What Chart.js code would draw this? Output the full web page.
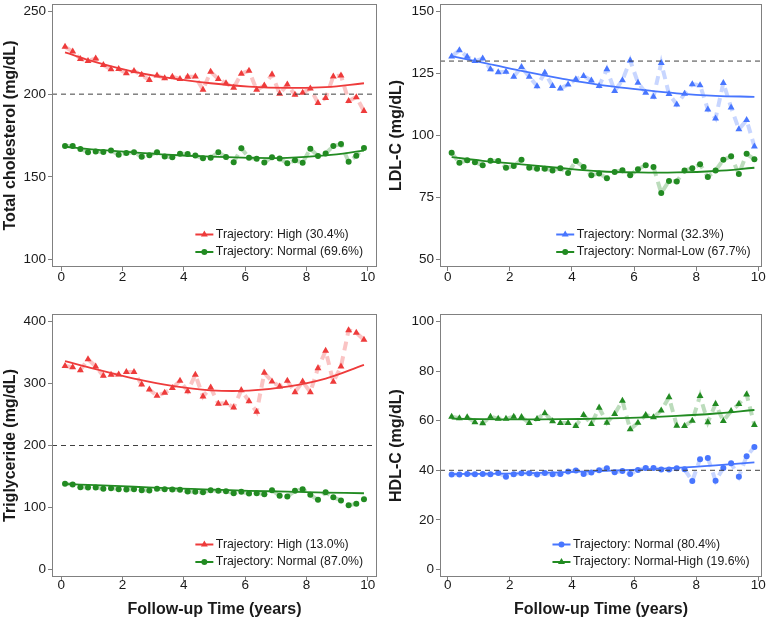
<!DOCTYPE html>
<html>
<head>
<meta charset="utf-8">
<title>Lipid trajectories</title>
<script src="https://cdn.jsdelivr.net/npm/chart.js@4.4.1/dist/chart.umd.min.js"></script>
<style>
    body { margin: 0; background: #fff; width: 766px; height: 619px; overflow: hidden; position: relative; }
    canvas { position: absolute; }
</style>
</head>
<body>
<canvas id="tcChart" width="383" height="290" style="left:0;top:0"></canvas>
<canvas id="ldlChart" width="383" height="290" style="left:383px;top:0"></canvas>
<canvas id="tgChart" width="383" height="329" style="left:0;top:290px"></canvas>
<canvas id="hdlChart" width="383" height="329" style="left:383px;top:290px"></canvas>
<script>
// follow-up time of each observed mean (years)
const timeYears = [0.125, 0.375, 0.625, 0.875, 1.125, 1.375, 1.625, 1.875, 2.125, 2.375,
    2.625, 2.875, 3.125, 3.375, 3.625, 3.875, 4.125, 4.375, 4.625, 4.875,
    5.125, 5.375, 5.625, 5.875, 6.125, 6.375, 6.625, 6.875, 7.125, 7.375,
    7.625, 7.875, 8.125, 8.375, 8.625, 8.875, 9.125, 9.375, 9.625, 9.875];
// times where the fitted curves were read
const fitYears = [0.125, 1.125, 2.375, 3.625, 4.875, 6.125, 7.375, 8.625, 9.875];
const xTicks = [0, 2, 4, 6, 8, 10];

// total cholesterol
const tcTicks = [100, 150, 200, 250];
const tcHigh = [228.6, 225.8, 221.3, 220.1, 221.6, 217.6, 215.1, 215.2, 212.6, 214.0,
    211.7, 208.5, 211.3, 209.6, 210.5, 209.2, 210.5, 210.6, 202.7, 213.6,
    209.1, 206.6, 203.8, 212.4, 214.1, 202.6, 205.3, 211.9, 200.2, 205.9,
    199.6, 200.8, 203.4, 194.7, 197.6, 210.7, 211.2, 195.9, 198.2, 189.8];
const tcNormal = [168.6, 168.6, 166.9, 164.9, 165.4, 165.0, 165.9, 163.4, 164.4, 164.8,
    162.2, 163.1, 164.8, 162.3, 161.8, 164.0, 163.8, 162.9, 161.2, 161.6,
    164.8, 162.0, 158.8, 167.3, 161.5, 161.0, 158.7, 161.9, 161.1, 158.2,
    160.0, 158.6, 167.0, 162.6, 164.1, 168.7, 169.8, 159.1, 162.8, 167.4];
const tcHighFit = [225.2, 219.3, 213.5, 209.5, 206.6, 204.6, 203.8, 204.2, 206.6];
const tcNormalFit = [168.2, 166.4, 164.8, 163.2, 162.2, 161.5, 161.5, 163.0, 165.8];

// LDL-C
const ldlTicks = [50, 75, 100, 125, 150];
const ldlNormal = [131.8, 134.4, 131.7, 130.0, 131.0, 126.7, 125.5, 125.7, 123.7, 127.6,
    123.7, 119.9, 125.3, 120.0, 118.9, 120.6, 122.7, 124.0, 122.2, 120.0,
    126.7, 117.9, 122.3, 130.2, 121.3, 117.2, 115.6, 129.2, 116.7, 112.5,
    116.8, 120.7, 120.3, 110.5, 106.9, 121.2, 111.3, 102.5, 106.2, 95.6];
const ldlNormalLow = [93.0, 89.0, 90.0, 89.2, 88.0, 89.8, 89.7, 87.0, 87.7, 90.2,
    87.0, 86.6, 86.6, 85.9, 86.8, 84.9, 89.7, 87.3, 84.0, 84.7,
    82.8, 85.3, 86.0, 84.0, 86.4, 88.0, 87.3, 76.8, 81.7, 81.5,
    85.9, 86.8, 88.4, 83.3, 85.9, 90.2, 91.6, 84.5, 92.6, 90.4];
const ldlNormalFit = [132.0, 129.4, 126.0, 123.0, 120.4, 118.6, 117.0, 116.0, 115.6];
const ldlNormalLowFit = [91.3, 89.8, 88.4, 86.9, 85.6, 85.1, 85.1, 85.7, 87.0];

// triglyceride
const tgTicks = [0, 100, 200, 300, 400];
const tgHigh = [328.0, 326.3, 321.5, 339.2, 327.4, 312.4, 314.0, 314.5, 318.3, 318.3,
    298.4, 290.3, 280.1, 285.0, 292.5, 304.3, 287.6, 314.0, 279.0, 293.5,
    267.2, 268.3, 261.3, 289.2, 271.5, 254.3, 317.2, 303.2, 295.2, 304.3,
    286.0, 303.2, 286.0, 324.7, 352.7, 302.7, 327.4, 386.0, 381.7, 370.4];
const tgNormal = [138.2, 137.1, 132.8, 132.3, 132.3, 130.1, 131.2, 129.6, 129.0, 129.6,
    128.0, 127.4, 130.1, 129.6, 129.0, 128.5, 125.8, 125.3, 124.7, 128.0,
    126.9, 126.3, 123.1, 125.3, 122.6, 123.1, 121.5, 128.0, 118.8, 117.7,
    126.9, 129.6, 120.4, 112.4, 124.7, 116.7, 111.3, 103.8, 105.9, 113.4];
const tgHighFit = [336, 323, 308, 296, 289, 288.5, 295, 308, 330];
const tgNormalFit = [138, 136, 133.5, 131, 129, 127, 125.5, 124, 123];

// HDL-C
const hdlTicks = [0, 20, 40, 60, 80, 100];
const hdlNormal = [38.3, 38.3, 38.5, 38.4, 38.5, 38.4, 38.9, 37.4, 38.4, 38.8,
    38.8, 38.3, 38.9, 38.4, 38.5, 39.5, 39.9, 38.5, 39.1, 40.0,
    40.8, 39.2, 39.7, 38.5, 40.1, 40.9, 40.9, 40.3, 40.3, 40.8,
    40.4, 35.7, 44.5, 45.0, 35.8, 40.9, 42.8, 37.4, 45.7, 49.4];
const hdlNormalHigh = [61.6, 61.0, 61.4, 59.4, 59.0, 61.6, 60.8, 60.8, 61.6, 61.5,
    59.1, 60.7, 63.0, 59.8, 59.1, 59.1, 57.9, 62.3, 58.7, 65.2,
    59.2, 62.7, 68.0, 56.5, 59.2, 62.3, 61.4, 64.1, 69.4, 58.0,
    57.9, 60.0, 70.0, 59.4, 66.7, 59.9, 63.9, 66.7, 70.6, 58.3];
const hdlNormalFit = [38.5, 38.6, 38.8, 39.2, 39.7, 40.3, 41.0, 42.0, 43.2];
const hdlNormalHighFit = [60.8, 60.6, 60.5, 60.6, 60.8, 61.2, 61.9, 62.9, 64.3];

const red = "#EE3B3B", redFaint = "rgba(238,59,59,0.3)";
const green = "#228B22", greenFaint = "rgba(34,139,34,0.3)";
const blue = "#4876FF", blueFaint = "rgba(72,118,255,0.3)";

Chart.defaults.font.family = "'Liberation Sans', Arial, sans-serif";
Chart.defaults.color = "#1a1a1a";

const panels = [
    {
        id: "tcChart", yTitle: "Total cholesterol (mg/dL)", showX: false,
        yMin: 95.5, yMax: 254.5, yTicks: tcTicks, ref: 200, xMin: -0.3, xMax: 10.3,
        yWidth: 52, xHeight: 23, padTop: 2, padRight: 6, titlePad: 1, xTickPad: 0, legendGap: 14,
        groups: [
            { label: "Trajectory: High (30.4%)", color: red, faint: redFaint, style: "triangle", values: tcHigh, fit: tcHighFit },
            { label: "Trajectory: Normal (69.6%)", color: green, faint: greenFaint, style: "circle", values: tcNormal, fit: tcNormalFit }
        ]
    },
    {
        id: "ldlChart", yTitle: "LDL-C (mg/dL)", showX: false,
        yMin: 47, yMax: 153, yTicks: ldlTicks, ref: 130, xMin: -0.25, xMax: 10.12,
        yWidth: 57, xHeight: 23, padTop: 2, padRight: 4, titlePad: 4, xTickPad: 0, legendGap: 11.5,
        groups: [
            { label: "Trajectory: Normal (32.3%)", color: blue, faint: blueFaint, style: "triangle", values: ldlNormal, fit: ldlNormalFit },
            { label: "Trajectory: Normal-Low (67.7%)", color: green, faint: greenFaint, style: "circle", values: ldlNormalLow, fit: ldlNormalLowFit }
        ]
    },
    {
        id: "tgChart", yTitle: "Triglyceride (mg/dL)", showX: true,
        yMin: -12, yMax: 412, yTicks: tgTicks, ref: 200, xMin: -0.3, xMax: 10.3,
        yWidth: 52, xHeight: 42, padTop: 24, padRight: 6, titlePad: 1, xTickPad: -2, legendGap: 14,
        groups: [
            { label: "Trajectory: High (13.0%)", color: red, faint: redFaint, style: "triangle", values: tgHigh, fit: tgHighFit },
            { label: "Trajectory: Normal (87.0%)", color: green, faint: greenFaint, style: "circle", values: tgNormal, fit: tgNormalFit }
        ]
    },
    {
        id: "hdlChart", yTitle: "HDL-C (mg/dL)", showX: true,
        yMin: -3, yMax: 103, yTicks: hdlTicks, ref: 40, xMin: -0.25, xMax: 10.12,
        yWidth: 57, xHeight: 42, padTop: 24, padRight: 4, titlePad: 4, xTickPad: -2, legendGap: 12.5,
        groups: [
            { label: "Trajectory: Normal (80.4%)", color: blue, faint: blueFaint, style: "circle", values: hdlNormal, fit: hdlNormalFit },
            { label: "Trajectory: Normal-High (19.6%)", color: green, faint: greenFaint, style: "triangle", values: hdlNormalHigh, fit: hdlNormalHighFit }
        ]
    }
];

const pointSize = style => (style === "triangle" ? 4 : 3);

// grey box around the plotting area
const framePlugin = {
    id: "frame",
    afterDraw(chart) {
        const { ctx, chartArea: a } = chart;
        ctx.save();
        ctx.strokeStyle = "#808080";
        ctx.lineWidth = 1;
        ctx.strokeRect(a.left + 0.5, a.top + 0.5, a.right - a.left - 1, a.bottom - a.top - 1);
        ctx.restore();
    }
};

// ggplot-like legend in the lower right corner of the plot
const trajLegend = {
    id: "trajLegend",
    afterDraw(chart, args, opts) {
        const { ctx, chartArea: a } = chart;
        ctx.save();
        ctx.font = "12.3px 'Liberation Sans', Arial, sans-serif";
        const widest = Math.max(...opts.items.map(it => ctx.measureText(it.label).width));
        const textX = a.right - opts.gap - widest;
        opts.items.forEach((it, k) => {
            const y = a.bottom - 15 - (opts.items.length - 1 - k) * 17.5;
            ctx.strokeStyle = it.color;
            ctx.fillStyle = it.color;
            ctx.lineWidth = 2;
            ctx.beginPath();
            ctx.moveTo(textX - 20.5, y);
            ctx.lineTo(textX - 2.5, y);
            ctx.stroke();
            Chart.helpers.drawPoint(ctx, { pointStyle: it.style, radius: pointSize(it.style), borderWidth: 0, rotation: 0 }, textX - 11.5, y);
            ctx.fillStyle = "#1a1a1a";
            ctx.textBaseline = "middle";
            ctx.textAlign = "left";
            ctx.fillText(it.label, textX, y);
        });
        ctx.restore();
    }
};

panels.forEach(p => {
    const datasets = [];
    p.groups.forEach(g => {
        const observed = timeYears.map((t, i) => ({ x: t, y: g.values[i] }));
        datasets.push({
            data: observed, order: 5, borderColor: g.faint, borderWidth: 4,
            borderDash: [9, 6], pointRadius: 0, tension: 0, fill: false
        });
        datasets.push({
            data: observed, order: 3, showLine: false, pointStyle: g.style,
            pointRadius: pointSize(g.style), pointBackgroundColor: g.color, pointBorderWidth: 0
        });
        datasets.push({
            data: fitYears.map((t, i) => ({ x: t, y: g.fit[i] })), order: 2,
            borderColor: g.color, borderWidth: 1.8, pointRadius: 0, tension: 0.4, fill: false
        });
    });
    datasets.push({
        data: [{ x: p.xMin, y: p.ref }, { x: p.xMax, y: p.ref }], order: 1,
        borderColor: "#404040", borderWidth: 1, borderDash: [5, 4], pointRadius: 0
    });

    new Chart(document.getElementById(p.id), {
        type: "line",
        data: { datasets },
        options: {
            responsive: false,
            animation: false,
            devicePixelRatio: 1,
            layout: { padding: { top: p.padTop, right: p.padRight, left: 0, bottom: 0 } },
            plugins: {
                legend: { display: false },
                tooltip: { enabled: false },
                trajLegend: {
                    gap: p.legendGap,
                    items: p.groups.map(g => ({ label: g.label, color: g.color, style: g.style }))
                }
            },
            scales: {
                x: {
                    type: "linear", min: p.xMin, max: p.xMax,
                    afterBuildTicks: axis => { axis.ticks = xTicks.map(value => ({ value })); },
                    afterFit: s => { s.height = p.xHeight; s.paddingLeft = 0; s.paddingRight = 0; },
                    grid: { drawOnChartArea: false, tickLength: 4, tickColor: "#808080", color: "#808080" },
                    border: { display: false },
                    ticks: { font: { size: 13.5, lineHeight: 1 }, padding: p.xTickPad, maxRotation: 0 },
                    title: {
                        display: p.showX, text: "Follow-up Time (years)",
                        font: { size: 16, weight: "bold" }, padding: { top: 0, bottom: 0 }
                    }
                },
                y: {
                    type: "linear", min: p.yMin, max: p.yMax,
                    afterBuildTicks: axis => { axis.ticks = p.yTicks.map(value => ({ value })); },
                    afterFit: s => { s.width = p.yWidth; s.paddingTop = 0; s.paddingBottom = 0; },
                    grid: { drawOnChartArea: false, tickLength: 4, tickColor: "#808080", color: "#808080" },
                    border: { display: false },
                    ticks: { font: { size: 13.5 }, padding: 2 },
                    title: {
                        display: true, text: p.yTitle,
                        font: { size: 16, weight: "bold" }, padding: { top: p.titlePad, bottom: 0 }
                    }
                }
            }
        },
        plugins: [framePlugin, trajLegend]
    });
});
</script>
</body>
</html>
